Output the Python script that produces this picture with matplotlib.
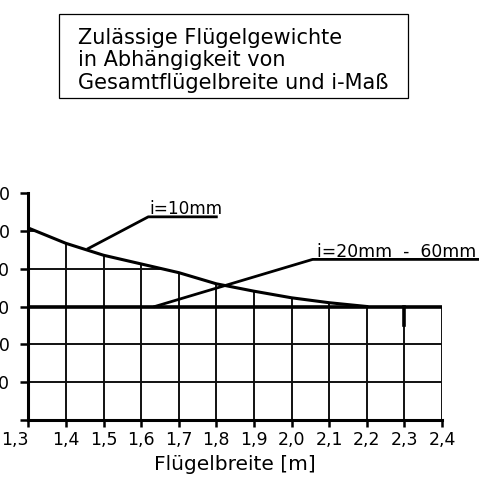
import matplotlib
matplotlib.use('Agg')
import matplotlib.pyplot as plt
from matplotlib.patches import Polygon, Rectangle
from matplotlib.transforms import ScaledTranslation

plt.rcParams['font.family'] = ['DejaVu Sans']

# Permissible sash weight (i=10mm curve) vs sash width
breite = [1.3, 1.4, 1.5, 1.6, 1.7, 1.8, 1.9, 2.0, 2.1, 2.2]
gewicht_i10 = [101.5, 93.4, 87.1, 82.5, 77.9, 72.0, 68.1, 64.6, 62.0, 60.0]
# i=20mm - 60mm: constant limit
gewicht_i20_60 = 60
x_ticks = [1.3, 1.4, 1.5, 1.6, 1.7, 1.8, 1.9, 2.0, 2.1, 2.2, 2.3, 2.4]
y_ticks = [0, 20, 40, 60, 80, 100, 120]
y_tick_labels = ['', '20', '40', '60', '80', '100', '120']
marker_x = 2.3
marker_y = [50, 60]

# leader lines for the labels (data coords)
leader_i10 = ([1.459, 1.619, 1.800], [90.6, 107.4, 107.4])
leader_i20 = ([1.6365, 2.056, 2.497], [60.0, 84.9, 84.9])

W, H = 479, 495
fig = plt.figure(figsize=(W / 100, H / 100), dpi=100)
ax = fig.add_axes([28.3 / W, (H - 420) / H, (442 - 28.3) / W, (420 - 193) / H])
ax.set_xlim(1.3, 2.4)
ax.set_ylim(0, 120)

# area under the limit curves, used to clip the grid
xs = [1.3] + breite + [2.4, 2.4]
ys = [0] + gewicht_i10 + [gewicht_i20_60, 0]
clip = Polygon(list(zip(xs, ys)), closed=True, transform=ax.transData)

for x in x_ticks[1:-1]:
    ln, = ax.plot([x, x], [0, 120], color='#111111', lw=1.4, zorder=2)
    ln.set_clip_path(clip)
for y in y_ticks[1:]:
    ln, = ax.plot([1.3, 2.4], [y, y], color='#111111', lw=1.4, zorder=2)
    ln.set_clip_path(clip)
ax.plot([2.4, 2.4], [0, gewicht_i20_60], color='#111111', lw=1.4, zorder=2)

ax.plot(breite, gewicht_i10, color='black', lw=2.2, zorder=3)
ax.plot([1.3, 2.4], [gewicht_i20_60, gewicht_i20_60], color='black', lw=2.6, zorder=3)
ax.plot([marker_x, marker_x], marker_y, color='black', lw=2.6, zorder=3)

ax.plot(*leader_i10, color='black', lw=2.0, zorder=4, clip_on=False)
ax.plot(*leader_i20, color='black', lw=2.0, zorder=4, clip_on=False)
ax.annotate('i=10mm', (leader_i10[0][1], leader_i10[1][1]), xytext=(1, 2),
            textcoords='offset points', fontsize=12.2, va='baseline', ha='left')
ax.annotate('i=20mm  -  60mm', (leader_i20[0][1], leader_i20[1][1]), xytext=(3, 2),
            textcoords='offset points', fontsize=12.4, va='baseline', ha='left',
            annotation_clip=False)

for s in ['top', 'right']:
    ax.spines[s].set_visible(False)
for s in ['left', 'bottom']:
    ax.spines[s].set_linewidth(2.2)
ax.set_xticks(x_ticks)
ax.set_xticklabels([f'{v:.1f}'.replace('.', ',') for v in x_ticks], fontsize=12.5)
ax.set_yticks(y_ticks)
ax.set_yticklabels(y_tick_labels, fontsize=12.5)
ax.tick_params(axis='x', length=5, width=1.8, pad=3)
ax.tick_params(axis='y', length=6, width=1.8, pad=7)
ax.set_xlabel('Flügelbreite [m]', fontsize=14.5, labelpad=4)

fig.canvas.draw()
lab0 = ax.get_xticklabels()[0]
lab0.set_transform(lab0.get_transform() + ScaledTranslation(-0.13, 0, fig.dpi_scale_trans))

# title box
fig.add_artist(Rectangle((59.3 / W, 1 - 98.3 / H), (408.3 - 59.3) / W, (98.3 - 14.3) / H,
                         transform=fig.transFigure, fill=False, lw=0.9, color='black'))
for txt, base in [('Zulässige Flügelgewichte', 44),
                  ('in Abhängigkeit von', 66.5),
                  ('Gesamtflügelbreite und i-Maß', 89)]:
    fig.text(78.3 / W, 1 - base / H, txt, fontsize=15, va='baseline', ha='left')

fig.savefig('out.png', dpi=100)
